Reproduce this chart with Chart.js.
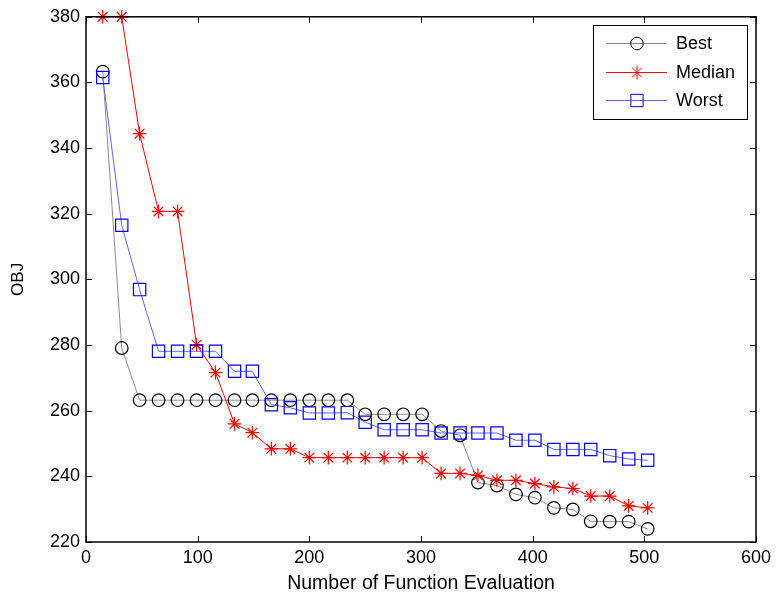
<!DOCTYPE html>
<html>
<head>
<meta charset="utf-8">
<script src="https://cdn.jsdelivr.net/npm/chart.js@4"></script>
<style>
  html, body { margin: 0; padding: 0; background: #fff; }
  #wrap { width: 777px; height: 603px; }
</style>
</head>
<body>
<div id="wrap"><canvas id="chartObj"></canvas></div>
<script>
// function evaluations (x) for every recorded iteration
const evals = [15, 32, 48, 65, 82, 99, 116, 133, 149, 166, 183, 200, 217, 234, 250,
    267, 284, 301, 318, 335, 351, 368, 385, 402, 419, 436, 452, 469, 486, 503];

const best = [363.3, 279.1, 263.2, 263.2, 263.2, 263.2, 263.2, 263.2, 263.2, 263.2, 263.2, 263.2, 263.2, 263.2,
    258.9, 258.9, 258.9, 258.9, 253.8, 252.5, 238.1, 237.2, 234.5, 233.5, 230.4, 229.9, 226.3, 226.2, 226.2, 224.0];

const median = [380, 380, 344.4, 320.7, 320.7, 280.1, 271.6, 256.0, 253.3, 248.4, 248.4, 245.7, 245.7, 245.7,
    245.7, 245.7, 245.7, 245.7, 240.9, 240.9, 240.3, 238.8, 238.8, 237.8, 236.8, 236.3, 234.0, 234.0, 231.0, 230.4];

const worst = [361.5, 316.5, 296.9, 278.1, 278.1, 278.1, 278.1, 272.0, 272.0, 261.8, 260.9, 259.3, 259.3, 259.4,
    256.5, 254.2, 254.2, 254.2, 253.2, 253.2, 253.2, 253.2, 251.0, 251.0, 248.2, 248.2, 248.2, 246.3, 245.3, 244.9];

const xTicks = [0, 100, 200, 300, 400, 500, 600];
const yTicks = [220, 240, 260, 280, 300, 320, 340, 360, 380];

function toPoints(ys) {
    let pts = [];
    for (let i = 0; i < evals.length; i++) {
        pts.push({ x: evals[i], y: ys[i] });
    }
    return pts;
}

const FONT = "'Liberation Sans', Arial, sans-serif";

const series = [
    { label: 'Best', data: best, line: '#8a8a8a', mark: '#000000', style: 'circle', r: 6.3 },
    { label: 'Median', data: median, line: '#ff0000', mark: '#ff0000', style: 'star', r: 6.8 },
    { label: 'Worst', data: worst, line: '#6262ff', mark: '#0000ff', style: 'rect', r: 8.7 }
];

// MATLAB-like box with inward ticks on all sides
const boxPlugin = {
    id: 'boxPlugin',
    afterDraw(chart) {
        const ctx = chart.ctx;
        const a = chart.chartArea;
        const xs = chart.scales.x, ys = chart.scales.y;
        ctx.save();
        ctx.strokeStyle = '#000';
        ctx.lineWidth = 1;
        ctx.beginPath();
        xTicks.forEach(function (v) {
            const px = Math.round(xs.getPixelForValue(v)) + 0.5;
            ctx.moveTo(px, a.bottom); ctx.lineTo(px, a.bottom - 6);
            ctx.moveTo(px, a.top); ctx.lineTo(px, a.top + 6);
        });
        yTicks.forEach(function (v) {
            const py = Math.round(ys.getPixelForValue(v)) + 0.5;
            ctx.moveTo(a.left, py); ctx.lineTo(a.left + 6, py);
            ctx.moveTo(a.right, py); ctx.lineTo(a.right - 6, py);
        });
        ctx.stroke();
        ctx.lineWidth = 1.5;
        ctx.strokeRect(a.left, a.top, a.right - a.left, a.bottom - a.top);

        // legend box
        const lx = 593, ly = 25, lw = 154, lh = 94;
        ctx.fillStyle = '#fff';
        ctx.fillRect(lx, ly, lw, lh);
        ctx.lineWidth = 1;
        ctx.strokeRect(lx + 0.5, ly + 0.5, lw, lh);
        const rows = [43, 72, 100];
        ctx.font = '18px ' + FONT;
        ctx.textBaseline = 'middle';
        ctx.textAlign = 'left';
        series.forEach(function (s, i) {
            const y = rows[i] + 0.5;
            ctx.strokeStyle = s.line;
            ctx.lineWidth = 1;
            ctx.beginPath();
            ctx.moveTo(606, y); ctx.lineTo(667, y);
            ctx.stroke();
            ctx.strokeStyle = s.mark;
            ctx.fillStyle = 'rgba(0,0,0,0)';
            Chart.helpers.drawPoint(ctx, { pointStyle: s.style, radius: s.r, borderWidth: 1, rotation: 0 }, 637, y);
            ctx.fillStyle = '#000';
            ctx.fillText(s.label, 676, rows[i] + 1);
        });
        ctx.restore();
    }
};

const ctxObj = document.getElementById('chartObj');

const grObj = new Chart(ctxObj, {
    type: 'line',
    data: {
        datasets: series.map(function (s) {
            return {
                label: s.label,
                data: toPoints(s.data),
                borderColor: s.line,
                borderWidth: 1,
                pointStyle: s.style,
                pointRadius: s.r,
                pointBorderColor: s.mark,
                pointBackgroundColor: 'rgba(0,0,0,0)',
                pointBorderWidth: 1.2,
                tension: 0,
                fill: false,
                clip: false
            };
        }).reverse()
    },
    options: {
        responsive: true,
        maintainAspectRatio: false,
        animation: false,
        layout: { padding: { left: 0, right: 21, top: 15, bottom: 0 } },
        plugins: {
            legend: { display: false },
            tooltip: { enabled: false }
        },
        scales: {
            x: {
                type: 'linear',
                min: 0,
                max: 600,
                afterBuildTicks: function (scale) {
                    scale.ticks = xTicks.map(function (v) { return { value: v }; });
                },
                afterFit: function (scale) { scale.height = 61; },
                grid: { display: false, drawTicks: false },
                border: { display: false },
                ticks: { color: '#000', padding: 5, font: { family: FONT, size: 18 }, maxRotation: 0 },
                title: {
                    display: true,
                    text: 'Number of Function Evaluation',
                    color: '#000',
                    font: { family: FONT, size: 19.5 },
                    padding: { top: 0, bottom: 8 }
                }
            },
            y: {
                type: 'linear',
                min: 220,
                max: 380,
                afterBuildTicks: function (scale) {
                    scale.ticks = yTicks.map(function (v) { return { value: v }; });
                },
                afterFit: function (scale) { scale.width = 86; },
                grid: { display: false, drawTicks: false },
                border: { display: false },
                ticks: { color: '#000', padding: 6, font: { family: FONT, size: 18 } },
                title: {
                    display: true,
                    text: 'OBJ',
                    color: '#000',
                    font: { family: FONT, size: 17 },
                    padding: { top: 8, bottom: 0 }
                }
            }
        }
    },
    plugins: [boxPlugin]
});
</script>
</body>
</html>
